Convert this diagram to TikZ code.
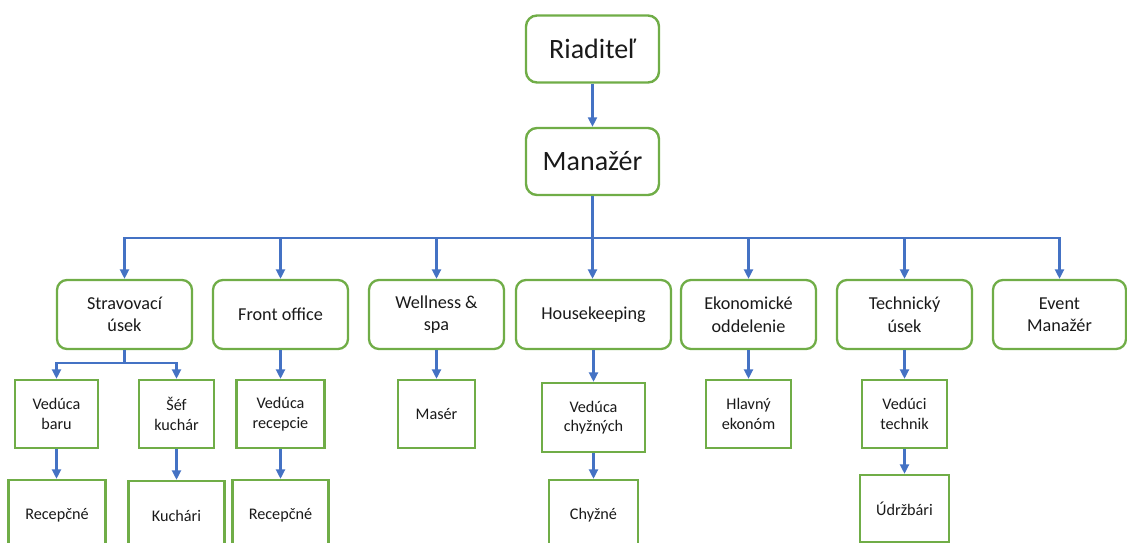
\documentclass[tikz,border=0pt]{standalone}
\usepackage{fontspec}
\setmainfont{Carlito}
\usetikzlibrary{arrows.meta}
\definecolor{boxgreen}{HTML}{70AD47}
\definecolor{arrblue}{HTML}{4472C4}
\definecolor{txt}{HTML}{1A1A1A}
\begin{document}
\begin{tikzpicture}[x=1pt,y=-1pt,
 topbox/.style={draw=boxgreen,line width=2.4pt,rounded corners=11pt,fill=white,align=center,text=txt,
   font=\fontsize{28}{34}\selectfont,inner sep=0pt,minimum width=133pt,minimum height=67pt},
 dept/.style={draw=boxgreen,line width=2.3pt,rounded corners=10pt,fill=white,align=center,text=txt,
   font=\fontsize{18.2}{22.5}\selectfont,inner sep=0pt,minimum height=69pt},
 subbox/.style={draw=boxgreen,line width=2.3pt,fill=white,align=center,text=txt,
   font=\fontsize{16.2}{19.5}\selectfont,inner sep=0pt,minimum height=68pt},
 arr/.style={draw=arrblue,line width=2.2pt,-{Triangle[width=9pt,length=9.5pt]}}]
\useasboundingbox (0,0) rectangle (1127,543);
\clip (0,0) rectangle (1127,543);

% top
\node[topbox] (riad) at (592.5,49) {Riaditeľ};
\node[topbox] (man) at (592.5,161.5) {Manažér};

% departments
\node[dept,minimum width=135pt] (s1) at (124.5,314.5) {Stravovací\\úsek};
\node[dept,minimum width=135pt] (s2) at (280.5,314.5) {Front office};
\node[dept,minimum width=135pt] (s3) at (436.5,314.5) {Wellness \&\\spa};
\node[dept,minimum width=155pt] (s4) at (593.5,314.5) {Housekeeping};
\node[dept,minimum width=135pt] (s5) at (748.5,314.5) {Ekonomické\\oddelenie};
\node[dept,minimum width=135pt] (s6) at (904.5,314.5) {Technický\\úsek};
\node[dept,minimum width=133pt] (s7) at (1059.5,314.5) {Event\\Manažér};

% third row
\node[subbox,minimum width=83pt] (vb) at (56.5,414) {Vedúca\\baru};
\node[subbox,minimum width=75pt] (sk) at (176.5,414) {Šéf\\kuchár};
\node[subbox,minimum width=88pt] (vr) at (280.5,414) {Vedúca\\recepcie};
\node[subbox,minimum width=77pt] (mas) at (436.5,414) {Masér};
\node[subbox,minimum width=103pt,minimum height=69pt] (vch) at (593.5,417.5) {Vedúca\\chyžných};
\node[subbox,minimum width=85pt] (he) at (748.5,414) {Hlavný\\ekonóm};
\node[subbox,minimum width=85pt] (vt) at (904.5,414) {Vedúci\\technik};

% fourth row
\node[subbox,minimum width=97pt,minimum height=70pt] (r1) at (57,515) {Recepčné};
\node[subbox,minimum width=96pt,minimum height=70pt] (ku) at (176.5,516) {Kuchári};
\node[subbox,minimum width=96pt,minimum height=70pt] (r2) at (280.5,515) {Recepčné};
\node[subbox,minimum width=89pt,minimum height=70pt] (ch) at (593.5,515) {Chyžné};
\node[subbox,minimum width=89pt,minimum height=67pt] (ud) at (904.5,508.5) {Údržbári};

% connectors
\draw[arr] (riad) -- (man);
\coordinate (bus) at (592.5,238);
\foreach \d in {s1,s2,s3,s5,s6,s7}
  \draw[arr] (man.south) -- (man.south |- bus) -| (\d.north);
\draw[arr] (man.south) -- (s4.north -| man.south);

\coordinate (sbus) at (124.5,363);
\draw[arr] (s1.south) -- (sbus) -| (vb.north);
\draw[arr] (s1.south) -- (sbus) -| (sk.north);
\draw[arr] (s2) -- (vr);
\draw[arr] (s3) -- (mas);
\draw[arr] (s4) -- (vch);
\draw[arr] (s5) -- (he);
\draw[arr] (s6) -- (vt);
\draw[arr] (vb.south) -- (vb.south |- r1.north);
\draw[arr] (sk) -- (ku);
\draw[arr] (vr) -- (r2);
\draw[arr] (vch) -- (ch);
\draw[arr] (vt) -- (ud);
\end{tikzpicture}
\end{document}
